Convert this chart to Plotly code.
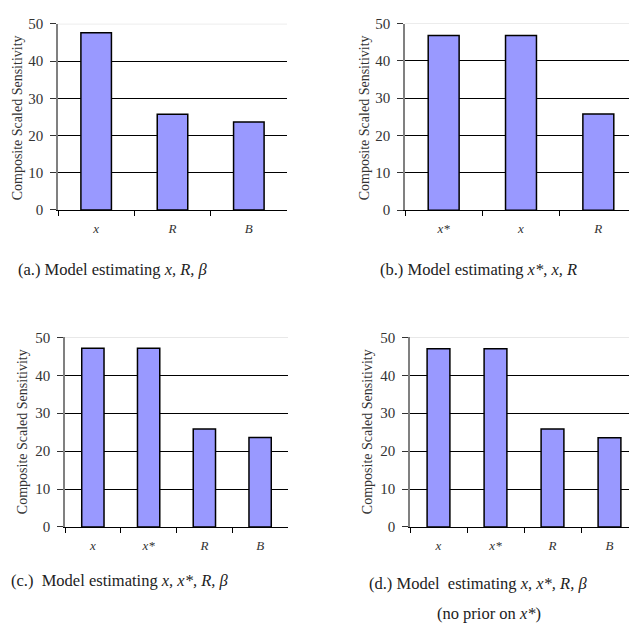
import plotly.graph_objects as go

W, H = 637, 630
OFF = 8  # page body margin

# ---- data ----
cats_a = ["x", "R", "B"]
vals_a = [47.6, 25.7, 23.6]
cats_b = ["x*", "x", "R"]
vals_b = [46.8, 46.8, 25.8]
cats_c = ["x", "x*", "R", "B"]
vals_c = [47.1, 47.1, 25.8, 23.6]
cats_d = ["x", "x*", "R", "B"]
vals_d = [47.0, 47.0, 25.8, 23.5]
y_ticks = [0, 10, 20, 30, 40, 50]

captions = [
    "(a.) Model estimating <i>x, R, β</i>",
    "(b.) Model estimating <i>x*, x, R</i>",
    "(c.)  Model estimating <i>x, x*, R, β</i>",
    "(d.) Model  estimating <i>x, x*, R, β</i>",
]
caption_extra = "(no prior on <i>x*</i>)"
ytitle = "Composite Scaled Sensitivity"

FONT = "Liberation Serif"
BAR = "#9999FF"

def px(x):
    return (x - OFF) / W

def py(y):
    return 1 - (y - OFF) / H

# panel pixel boxes: (left, right, top, bottom)
boxes = [
    (58, 287, 16, 207),
    (405, 637, 15.7, 207.3),
    (65, 288, 337.7, 532.3),
    (410, 638, 337.7, 532.3),
]
datasets = [(cats_a, vals_a), (cats_b, vals_b), (cats_c, vals_c), (cats_d, vals_d)]

fig = go.Figure()
layout = dict(
    width=W, height=H, margin=dict(l=0, r=0, t=0, b=0),
    paper_bgcolor="white", plot_bgcolor="white", showlegend=False,
    font=dict(family=FONT, color="#222"),
)
shapes = []
annotations = []

for i, ((cats, vals), (l, r, t, b)) in enumerate(zip(datasets, boxes)):
    n = i + 1
    xa = "x" if n == 1 else f"x{n}"
    ya = "y" if n == 1 else f"y{n}"
    fig.add_trace(go.Bar(
        x=cats, y=vals, xaxis=xa, yaxis=ya, width=0.4,
        marker=dict(color=BAR, line=dict(color="black", width=1.5)),
    ))
    layout[f"xaxis{'' if n == 1 else n}"] = dict(
        domain=[px(l), px(r)], anchor=ya, type="category",
        range=[-0.5, len(cats) - 0.5],
        showline=True, linecolor="black", linewidth=1.2,
        ticks="outside", tickson="boundaries", ticklen=5, tickcolor="black", tickwidth=1.2,
        tickfont=dict(family=FONT, size=13, style="italic", color="#333"),
        ticklabelstandoff=6, showgrid=False, fixedrange=True,
    )
    layout[f"yaxis{'' if n == 1 else n}"] = dict(
        domain=[py(b), py(t)], anchor=xa, range=[0, 50],
        tickvals=y_ticks, showline=True, linecolor="#808080", linewidth=1.5,
        ticks="outside", ticklen=6, tickcolor="#333", tickwidth=1,
        tickfont=dict(family=FONT, size=15, color="#333"),
        ticklabelstandoff=4,
        showgrid=True, gridcolor="black", gridwidth=1, zeroline=False,
        fixedrange=True,
    )
    shapes.append(dict(type="line", xref=f"{xa} domain", yref=ya,
                       x0=0, x1=1, y0=50, y1=50, layer="above",
                       line=dict(color="#d9d9d9", width=1)))

# y-axis titles
ytitle_pos = [(17, 113), (364, 113), (22, 435), (367, 435)]
for (x, y) in ytitle_pos:
    annotations.append(dict(text=ytitle, x=px(x), y=py(y), xref="paper", yref="paper",
                            textangle=-90, showarrow=False, xanchor="center", yanchor="middle",
                            font=dict(family=FONT, size=14, color="#333")))

cap_pos = [(16, 268), (378, 268), (5, 587), (367, 590)]
for txt, (x, y) in zip(captions, cap_pos):
    annotations.append(dict(text=txt, x=px(max(x, 9)), y=py(y), xref="paper", yref="paper",
                            showarrow=False, xanchor="left", yanchor="middle",
                            font=dict(family=FONT, size=16.5, color="#222")))
annotations.append(dict(text=caption_extra, x=px(489), y=py(621), xref="paper", yref="paper",
                        showarrow=False, xanchor="center", yanchor="middle",
                        font=dict(family=FONT, size=16.5, color="#222")))

layout["shapes"] = shapes
layout["annotations"] = annotations
fig.update_layout(**layout)
fig.write_html("out.html")
